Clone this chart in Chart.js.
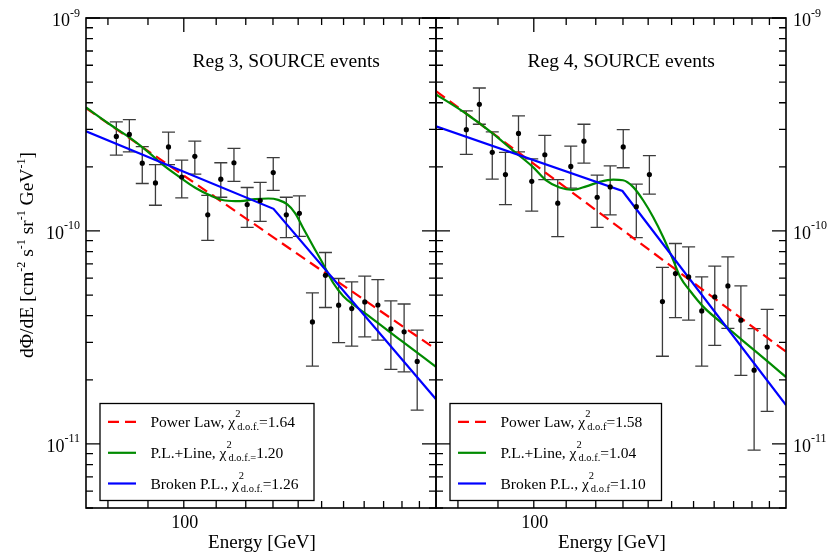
<!DOCTYPE html>
<html>
<head>
<meta charset="utf-8">
<script src="https://cdn.jsdelivr.net/npm/chart.js@4.4.0/dist/chart.umd.min.js"></script>
<style>
  html, body { margin: 0; padding: 0; background: #fff; }
  #wrap { position: relative; width: 833px; height: 553px; overflow: hidden; }
  #wrap canvas { position: absolute; left: 0; top: 0; pointer-events: none; }
</style>
</head>
<body>
<div id="wrap">
  <canvas id="reg3" width="833" height="553"></canvas>
  <canvas id="reg4" width="833" height="553"></canvas>
</div>
<script>
// ---- data -------------------------------------------------------------
// energy bin centres in GeV (same binning for both regions)
const energy = [82.0, 85.2, 88.5, 92.0, 95.6, 99.4, 103.3, 107.3, 111.5, 115.9, 120.5, 125.2,
                130.1, 135.2, 140.5, 146.0, 151.7, 157.7, 163.9, 170.3, 177.0, 183.9, 191.2, 198.7];

// fluxes below are in units of 1e-10 cm^-2 s^-1 sr^-1 GeV^-1
const FLUX_UNIT = 1e-10;

// Reg 3: measured flux with upper / lower ends of the error bars
const reg3Flux = [2.78, 2.84, 2.08, 1.68, 2.48, 1.79, 2.24, 1.19, 1.75, 2.09, 1.33, 1.39,
                  1.88, 1.19, 1.21, 0.374, 0.619, 0.448, 0.432, 0.464, 0.449, 0.347, 0.336, 0.244];
const reg3Up   = [3.25, 3.33, 2.49, 2.05, 2.91, 2.15, 2.64, 1.47, 2.09, 2.44, 1.60, 1.69,
                  2.21, 1.44, 1.46, 0.512, 0.792, 0.598, 0.576, 0.613, 0.591, 0.469, 0.454, 0.342];
const reg3Low  = [2.27, 2.35, 1.67, 1.32, 2.05, 1.43, 1.85, 0.904, 1.44, 1.71, 1.04, 1.11,
                  1.55, 0.931, 0.944, 0.232, 0.437, 0.299, 0.288, 0.318, 0.307, 0.224, 0.218, 0.144];

// Reg 4: measured flux with upper / lower ends of the error bars
const reg4Flux = [2.99, 3.93, 2.34, 1.84, 2.87, 1.71, 2.28, 1.35, 2.01, 2.64, 1.44, 1.61,
                  2.48, 1.30, 1.84, 0.466, 0.631, 0.608, 0.421, 0.490, 0.552, 0.381, 0.222, 0.285];
const reg4Up   = [3.66, 4.69, 2.92, 2.34, 3.47, 2.18, 2.81, 1.74, 2.50, 3.17, 1.83, 2.02,
                  2.99, 1.66, 2.26, 0.675, 0.873, 0.841, 0.608, 0.683, 0.755, 0.552, 0.348, 0.428];
const reg4Low  = [2.29, 3.17, 1.75, 1.33, 2.35, 1.24, 1.74, 0.941, 1.59, 2.08, 1.04, 1.19,
                  1.98, 0.931, 1.49, 0.258, 0.392, 0.381, 0.232, 0.290, 0.349, 0.210, 0.0934, 0.142];

// fitted models (energy nodes in GeV, flux in FLUX_UNIT)
const reg3PowerE  = [75, 210];
const reg3Power   = [3.77, 0.278];
const reg3BrokenE = [75, 130.2, 210];
const reg3Broken  = [2.94, 1.27, 0.162];
const reg3LineE   = [75, 80.4, 85.3, 90.4, 94.6, 98.8, 103.3, 108.0, 112.9, 118.0, 123.3, 128.2,
                     132.0, 135.5, 138.8, 142.1, 146.3, 150.7, 155.3, 159.9, 165.7, 173.2, 189.2, 210];
const reg3Line    = [3.80, 3.17, 2.74, 2.32, 2.01, 1.79, 1.60, 1.47, 1.39, 1.38, 1.41, 1.42,
                     1.40, 1.335, 1.21, 1.03, 0.848, 0.698, 0.568, 0.494, 0.443, 0.393, 0.307, 0.230];

const reg4PowerE  = [75, 210];
const reg4Power   = [4.54, 0.271];
const reg4BrokenE = [75, 129.8, 210];
const reg4Broken  = [3.10, 1.54, 0.152];
const reg4LineE   = [75, 81.9, 88.6, 94.0, 99.7, 103.7, 107.9, 112.2, 116.7, 121.4, 126.3, 130.0,
                     133.9, 138.0, 142.1, 146.3, 150.7, 153.9, 158.5, 164.7, 176.2, 187.0, 198.4, 210];
const reg4Line    = [4.38, 3.56, 2.87, 2.39, 2.00, 1.73, 1.60, 1.56, 1.62, 1.70, 1.74, 1.73,
                     1.61, 1.39, 1.16, 0.937, 0.729, 0.606, 0.521, 0.440, 0.355, 0.295, 0.246, 0.206];

// legend entries: model name, χ² subscript and trailing text
const fitNames  = ['Power Law', 'P.L.+Line', 'Broken P.L.'];
const reg3ChiSub  = ['d.o.f.', 'd.o.f.=', 'd.o.f.'];
const reg3ChiText = ['=1.64', '1.20', '=1.26'];
const reg4ChiSub  = ['d.o.f', 'd.o.f.', 'd.o.f'];
const reg4ChiText = ['=1.58', '=1.04', '=1.10'];

// axis ranges and labelled ticks
const xRange = [75, 210];
const yRange = [5e-12, 1e-9];
const xTickValues = [80, 90, 100, 110, 120, 130, 140, 150, 160, 170, 180, 190, 200];
const xLabelValues = [100];
const yDecades = [-11, -10, -9];

// ---- drawing helpers --------------------------------------------------
const SERIF = "'Liberation Serif', 'Times New Roman', 'DejaVu Serif', serif";
const font = px => px + 'px ' + SERIF;
const COLORS = { power: '#ff0000', line: '#008b00', broken: '#0000ff' };

// draws text made of plain pieces and {sup, sub} pieces; returns width
function rich(ctx, parts, x, y, size, small, supRise, subDrop, measureOnly) {
  let cx = x;
  for (const p of parts) {
    if (typeof p === 'string') {
      ctx.font = font(size);
      if (!measureOnly) ctx.fillText(p, cx, y);
      cx += ctx.measureText(p).width;
    } else {
      ctx.font = font(small);
      let w = 0;
      if (p.sup) {
        if (!measureOnly) ctx.fillText(p.sup, cx, y - supRise);
        w = Math.max(w, ctx.measureText(p.sup).width);
      }
      if (p.sub) {
        const dx = p.sup ? 2 : 0;
        if (!measureOnly) ctx.fillText(p.sub, cx + dx, y + subDrop);
        w = Math.max(w, ctx.measureText(p.sub).width + dx);
      }
      cx += w;
    }
  }
  return cx - x;
}

function makePanelPlugin(cfg) {
  return {
    id: 'panel_' + cfg.name,
    beforeDatasetsDraw(chart) {
      const { ctx, scales: { x, y } } = chart;
      ctx.save();
      ctx.strokeStyle = '#3c3c3c';
      ctx.lineWidth = 1.3;
      cfg.flux.forEach((f, i) => {
        const px = x.getPixelForValue(energy[i]);
        const yTop = y.getPixelForValue(cfg.up[i] * FLUX_UNIT);
        const yBot = y.getPixelForValue(cfg.low[i] * FLUX_UNIT);
        ctx.beginPath();
        ctx.moveTo(px, yTop); ctx.lineTo(px, yBot);
        ctx.moveTo(px - 6.5, yTop); ctx.lineTo(px + 6.5, yTop);
        ctx.moveTo(px - 6.5, yBot); ctx.lineTo(px + 6.5, yBot);
        ctx.stroke();
      });
      ctx.restore();
    },
    afterDatasetsDraw(chart) {
      const { ctx, chartArea: a, scales: { x, y } } = chart;
      ctx.save();
      ctx.fillStyle = '#000';
      ctx.strokeStyle = '#000';

      // ticks, pointing inwards on all four sides
      ctx.lineWidth = 1.3;
      ctx.beginPath();
      xTickValues.forEach(v => {
        const px = x.getPixelForValue(v);
        const len = xLabelValues.includes(v) ? 14 : 7;
        ctx.moveTo(px, a.bottom); ctx.lineTo(px, a.bottom - len);
        ctx.moveTo(px, a.top); ctx.lineTo(px, a.top + len);
      });
      for (let d = -12; d <= -9; d++) {
        for (let k = 1; k <= 9; k++) {
          const v = k * Math.pow(10, d);
          if (v < yRange[0] * 0.999 || v > yRange[1] * 1.001) continue;
          const py = y.getPixelForValue(v);
          const len = k === 1 ? 14 : 7;
          ctx.moveTo(a.left, py); ctx.lineTo(a.left + len, py);
          ctx.moveTo(a.right, py); ctx.lineTo(a.right - len, py);
        }
      }
      ctx.stroke();

      // frame
      ctx.lineWidth = 1.6;
      ctx.strokeRect(a.left, a.top, a.right - a.left, a.bottom - a.top);

      // x tick labels
      ctx.textBaseline = 'alphabetic';
      ctx.textAlign = 'center';
      ctx.font = font(18);
      xLabelValues.forEach(v => ctx.fillText(String(v), x.getPixelForValue(v) + 1, a.bottom + 20));
      ctx.textAlign = 'left';

      // y tick labels
      yDecades.forEach(d => {
        const py = y.getPixelForValue(Math.pow(10, d));
        const parts = ['10', { sup: String(d) }];
        const w = rich(ctx, parts, 0, 0, 18, 12, 9.5, 0, true);
        const x0 = cfg.labelsRight ? a.right + 7 : a.left - 6 - w;
        rich(ctx, parts, x0, py + 8, 18, 12, 9.5, 0, false);
      });

      // x axis title
      ctx.font = font(19);
      ctx.textAlign = 'center';
      ctx.fillText('Energy [GeV]', (a.left + a.right) / 2 + 1, a.bottom + 40);
      ctx.textAlign = 'left';

      // y axis title
      if (cfg.yTitle) {
        const parts = ['dΦ/dE [cm', { sup: '-2' }, ' s', { sup: '-1' }, ' sr', { sup: '-1' },
                       ' GeV', { sup: '-1' }, ']'];
        ctx.save();
        ctx.translate(33, 255);
        ctx.rotate(-Math.PI / 2);
        const w = rich(ctx, parts, 0, 0, 19.5, 12, 8, 0, true);
        rich(ctx, parts, -w / 2, 0, 19.5, 12, 8, 0, false);
        ctx.restore();
      }

      // panel title
      ctx.font = font(19.5);
      ctx.fillText(cfg.title, a.left + cfg.titleDx, 67);

      // legend
      const bx = a.left + 14, by = 403.5, bw = cfg.legendWidth, bh = 97;
      ctx.fillStyle = '#fff';
      ctx.fillRect(bx, by, bw, bh);
      ctx.lineWidth = 1.3;
      ctx.strokeStyle = '#000';
      ctx.strokeRect(bx, by, bw, bh);
      const rowY = [18.3, 49.3, 80];
      const styles = [
        { color: COLORS.power, dash: [11, 6] },
        { color: COLORS.line, dash: [] },
        { color: COLORS.broken, dash: [] }
      ];
      fitNames.forEach((name, i) => {
        const ly = by + rowY[i];
        ctx.beginPath();
        ctx.setLineDash(styles[i].dash);
        ctx.strokeStyle = styles[i].color;
        ctx.lineWidth = 2.2;
        ctx.moveTo(bx + 8, ly); ctx.lineTo(bx + 36, ly);
        ctx.stroke();
        ctx.setLineDash([]);
        ctx.fillStyle = '#000';
        rich(ctx, [name + ', χ', { sup: '2', sub: cfg.chiSub[i] }, cfg.chiText[i]],
             bx + 50.5, ly + 5, 15.5, 10.5, 9.5, 3.5, false);
      });
      ctx.restore();
    }
  };
}

function points(E, F) { return E.map((e, i) => ({ x: e, y: F[i] * FLUX_UNIT })); }

function buildPanel(canvasId, cfg) {
  const datasets = [
    { label: 'data', data: points(energy, cfg.flux), showLine: false,
      pointRadius: 2.6, pointBackgroundColor: '#000', pointBorderWidth: 0, order: 0 },
    { label: 'Power Law', data: points(cfg.powerE, cfg.power), showLine: true,
      borderColor: COLORS.power, borderWidth: 2.2, borderDash: [11, 6], pointRadius: 0, order: 3 },
    { label: 'P.L.+Line', data: points(cfg.lineE, cfg.line), showLine: true,
      borderColor: COLORS.line, borderWidth: 2.2, cubicInterpolationMode: 'monotone', pointRadius: 0, order: 2 },
    { label: 'Broken P.L.', data: points(cfg.brokenE, cfg.broken), showLine: true,
      borderColor: COLORS.broken, borderWidth: 2.2, pointRadius: 0, order: 1 }
  ];
  return new Chart(document.getElementById(canvasId), {
    type: 'scatter',
    data: { datasets },
    options: {
      responsive: false,
      animation: false,
      events: [],
      layout: { padding: cfg.padding },
      scales: {
        x: { type: 'logarithmic', min: xRange[0], max: xRange[1], display: false },
        y: { type: 'logarithmic', min: yRange[0], max: yRange[1], display: false }
      },
      plugins: { legend: { display: false }, tooltip: { enabled: false } }
    },
    plugins: [makePanelPlugin(cfg)]
  });
}

buildPanel('reg3', {
  name: 'reg3', title: 'Reg 3, SOURCE events', titleDx: 106.5, yTitle: true, labelsRight: false,
  padding: { left: 86, right: 833 - 436, top: 18, bottom: 553 - 508 },
  flux: reg3Flux, up: reg3Up, low: reg3Low,
  powerE: reg3PowerE, power: reg3Power, brokenE: reg3BrokenE, broken: reg3Broken,
  lineE: reg3LineE, line: reg3Line,
  chiSub: reg3ChiSub, chiText: reg3ChiText, legendWidth: 214
});

buildPanel('reg4', {
  name: 'reg4', title: 'Reg 4, SOURCE events', titleDx: 91.5, yTitle: false, labelsRight: true,
  padding: { left: 436, right: 833 - 786, top: 18, bottom: 553 - 508 },
  flux: reg4Flux, up: reg4Up, low: reg4Low,
  powerE: reg4PowerE, power: reg4Power, brokenE: reg4BrokenE, broken: reg4Broken,
  lineE: reg4LineE, line: reg4Line,
  chiSub: reg4ChiSub, chiText: reg4ChiText, legendWidth: 211.5
});
</script>
</body>
</html>
